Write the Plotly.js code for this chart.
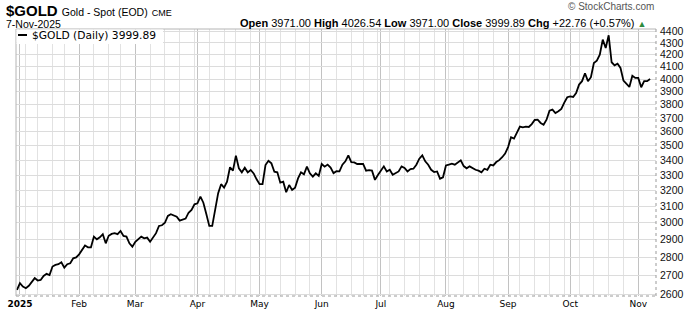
<!DOCTYPE html>
<html><head><meta charset="utf-8">
<script src="https://cdn.plot.ly/plotly-3.0.1.min.js"></script>
<style>html,body{margin:0;padding:0;background:#fff}#chart{width:700px;height:312px}</style>
</head><body><div id="chart"></div>
<script>
// ---- chart data ----
const symbol = "$GOLD";
const description = "Gold - Spot (EOD)";
const exchange = "CME";
const asOf = "7-Nov-2025";
const quoteOpen = "3971.00";
const quoteHigh = "4026.54";
const quoteLow = "3971.00";
const quoteClose = "3999.89";
const quoteChg = "+22.76";
const quoteChgPct = "+0.57%";
const firstSession = "2024-12-31";
const lastSession = "2025-11-07";
const marketHolidays = ["2025-01-01","2025-01-09","2025-01-20","2025-02-17","2025-04-18","2025-05-26","2025-06-19","2025-07-04","2025-09-01"];
const closes = [
 2621,2657,2639,2630,2643,2665,2684,2671,2674,2696,
 2707,2701,2747,2756,2760,2771,2741,2760,2765,2793,
 2798,2815,2840,2865,2855,2855,2917,2901,2913,2931,
 2878,2922,2933,2937,2931,2950,2921,2917,2878,2859,
 2887,2905,2917,2907,2911,2887,2913,2937,2980,2984,
 2999,3040,3051,3045,3036,3012,3020,3024,3060,3077,
 3112,3118,3160,3122,3052,2980,2980,3077,3182,3240,
 3218,3256,3352,3329,3431,3345,3318,3349,3318,3334,
 3311,3272,3240,3240,3367,3396,3378,3322,3318,3250,
 3256,3188,3235,3203,3217,3278,3318,3305,3356,3311,
 3289,3311,3294,3374,3356,3370,3350,3313,3326,3325,
 3369,3392,3433,3387,3385,3374,3374,3374,3329,3332,
 3329,3268,3300,3330,3358,3324,3335,3302,3313,3324,
 3358,3347,3324,3340,3342,3369,3410,3433,3392,3369,
 3335,3320,3324,3276,3285,3364,3369,3376,3369,3385,
 3399,3360,3345,3358,3345,3335,3329,3318,3342,3335,
 3369,3364,3387,3400,3420,3445,3490,3560,3550,3597,
 3636,3631,3636,3634,3655,3685,3687,3663,3650,3687,
 3754,3762,3737,3750,3767,3815,3857,3864,3859,3890,
 3956,3983,4047,3983,4015,4131,4150,4200,4329,4257,
 4367,4137,4112,4125,4090,3987,3961,3937,4027,4009,
 4009,3935,3983,3983,3999.89
];
const yTicks = [2600,2700,2800,2900,3000,3100,3200,3300,3400,3500,3600,3700,3800,3900,4000,4100,4200,4300,4400];
const monthNames = ["Jan","Feb","Mar","Apr","May","Jun","Jul","Aug","Sep","Oct","Nov","Dec"];

// ---- trading sessions (weekdays minus exchange holidays) ----
function iso(d){return d.toISOString().slice(0,10);}
const sessions = [];
for (let d = new Date(firstSession+"T00:00:00Z"); iso(d) <= lastSession; d.setUTCDate(d.getUTCDate()+1)) {
  const w = d.getUTCDay();
  if (w === 0 || w === 6) continue;
  if (marketHolidays.includes(iso(d))) continue;
  sessions.push(iso(d));
}
const monthTicks = [], monthText = [], weekTicks = [];
function weekKey(s){const d=new Date(s+"T00:00:00Z");d.setUTCDate(d.getUTCDate()-((d.getUTCDay()+6)%7));return iso(d);}
for (let i = 1; i < sessions.length; i++) {
  const m = +sessions[i].slice(5,7), pm = +sessions[i-1].slice(5,7);
  if (m !== pm) {
    monthTicks.push(sessions[i]);
    monthText.push(m === 1 ? "<b>" + sessions[i].slice(0,4) + "</b>" : monthNames[m-1]);
  }
  if (weekKey(sessions[i]) !== weekKey(sessions[i-1])) weekTicks.push(sessions[i]);
}

// ---- layout helpers (pixel -> paper) ----
const L = 16, R = 656, T = 29, B = 296;
const px = x => (x - L) / (R - L);
const py = y => (B - y) / (B - T);

const trace = {
  x: sessions, y: closes, type: "scatter", mode: "lines",
  line: {color: "#000", width: 1.8}, hoverinfo: "skip"
};

const layout = {
  width: 700, height: 312,
  margin: {l: L, r: 700 - R, t: T, b: 312 - B, pad: 0},
  paper_bgcolor: "#fff", plot_bgcolor: "#fff",
  showlegend: false,
  xaxis: {
    type: "date",
    range: ["2024-12-30 16:00", "2025-11-11 00:00"],
    rangebreaks: [{bounds: ["sat", "mon"]}, {values: marketHolidays}],
    tickmode: "array", tickvals: monthTicks, ticktext: monthText,
    showgrid: true, gridcolor: "#c2c2c2", gridwidth: 1,
    minor: {tickmode: "array", tickvals: weekTicks, showgrid: true, gridcolor: "#e2e2e2", gridwidth: 1, ticks: ""},
    ticks: "", showline: false, zeroline: false,
    tickfont: {family: "DejaVu Sans", size: 9, color: "#000"},
    ticklabelstandoff: 1, fixedrange: true
  },
  yaxis: {
    type: "log", side: "right",
    range: [3.41323, 3.64563],
    tickmode: "array", tickvals: yTicks, ticktext: yTicks.map(String),
    showgrid: true, gridcolor: "#dcdcdc", gridwidth: 1,
    ticks: "", showline: false, zeroline: false,
    tickfont: {family: "Liberation Sans, Arial, sans-serif", size: 10.5, color: "#111"},
    ticklabelstandoff: 3, fixedrange: true
  },
  shapes: [
    {type: "line", xref: "paper", yref: "paper", x0: 0, x1: 0, y0: 0, y1: 1, line: {color: "#b4b4b4", width: 1}},
    {type: "line", xref: "paper", yref: "paper", x0: 0, x1: 1, y0: 1, y1: 1, line: {color: "#b4b4b4", width: 1}},
    {type: "line", xref: "paper", yref: "paper", x0: 1, x1: 1, y0: 0, y1: 1, line: {color: "#9a9a9a", width: 1, dash: "dot"}},
    {type: "line", xref: "paper", yref: "paper", x0: 0, x1: 1, y0: 0, y1: 0, line: {color: "#9a9a9a", width: 1, dash: "dot"}},
    {type: "rect", xref: "paper", yref: "paper", x0: px(16.5), x1: px(163), y0: py(44), y1: py(29.5), fillcolor: "#fff", line: {width: 0}},
    {type: "line", xref: "paper", yref: "paper", x0: px(18), x1: px(27), y0: py(35), y1: py(35), line: {color: "#000", width: 2}}
  ],
  annotations: [
    {xref: "paper", yref: "paper", x: px(29.5), y: py(35.5), xanchor: "left", yanchor: "middle", showarrow: false,
     text: symbol + " (Daily) " + quoteClose, font: {family: "DejaVu Sans", size: 10.7, color: "#000"}},
    {xref: "paper", yref: "paper", x: px(4), y: py(10), xanchor: "left", yanchor: "middle", showarrow: false,
     text: "<b>" + symbol + "</b> <span style='font-size:10.5px'>" + description + "</span> <span style='font-size:9px'>" + exchange + "</span>",
     font: {family: "Liberation Sans, Arial, sans-serif", size: 15, color: "#000"}},
    {xref: "paper", yref: "paper", x: px(4), y: py(23.5), xanchor: "left", yanchor: "middle", showarrow: false,
     text: asOf, font: {family: "Liberation Sans, Arial, sans-serif", size: 10.5, color: "#000"}},
    {xref: "paper", yref: "paper", x: px(648), y: py(22.5), xanchor: "right", yanchor: "middle", showarrow: false,
     text: "<b>Open</b> " + quoteOpen + " <b>High</b> " + quoteHigh + " <b>Low</b> " + quoteLow + " <b>Close</b> " + quoteClose + " <b>Chg</b> " + quoteChg + " (" + quoteChgPct + ") <span style='color:#2e8b3e;font-size:9px'>▲</span>",
     font: {family: "Liberation Sans, Arial, sans-serif", size: 11, color: "#000"}},
    {xref: "paper", yref: "paper", x: px(656), y: py(6.5), xanchor: "right", yanchor: "middle", showarrow: false,
     text: "© StockCharts.com", font: {family: "Liberation Sans, Arial, sans-serif", size: 10, color: "#555"}}
  ]
};

Plotly.newPlot("chart", [trace], layout, {staticPlot: true, displayModeBar: false});
</script>
</body></html>
